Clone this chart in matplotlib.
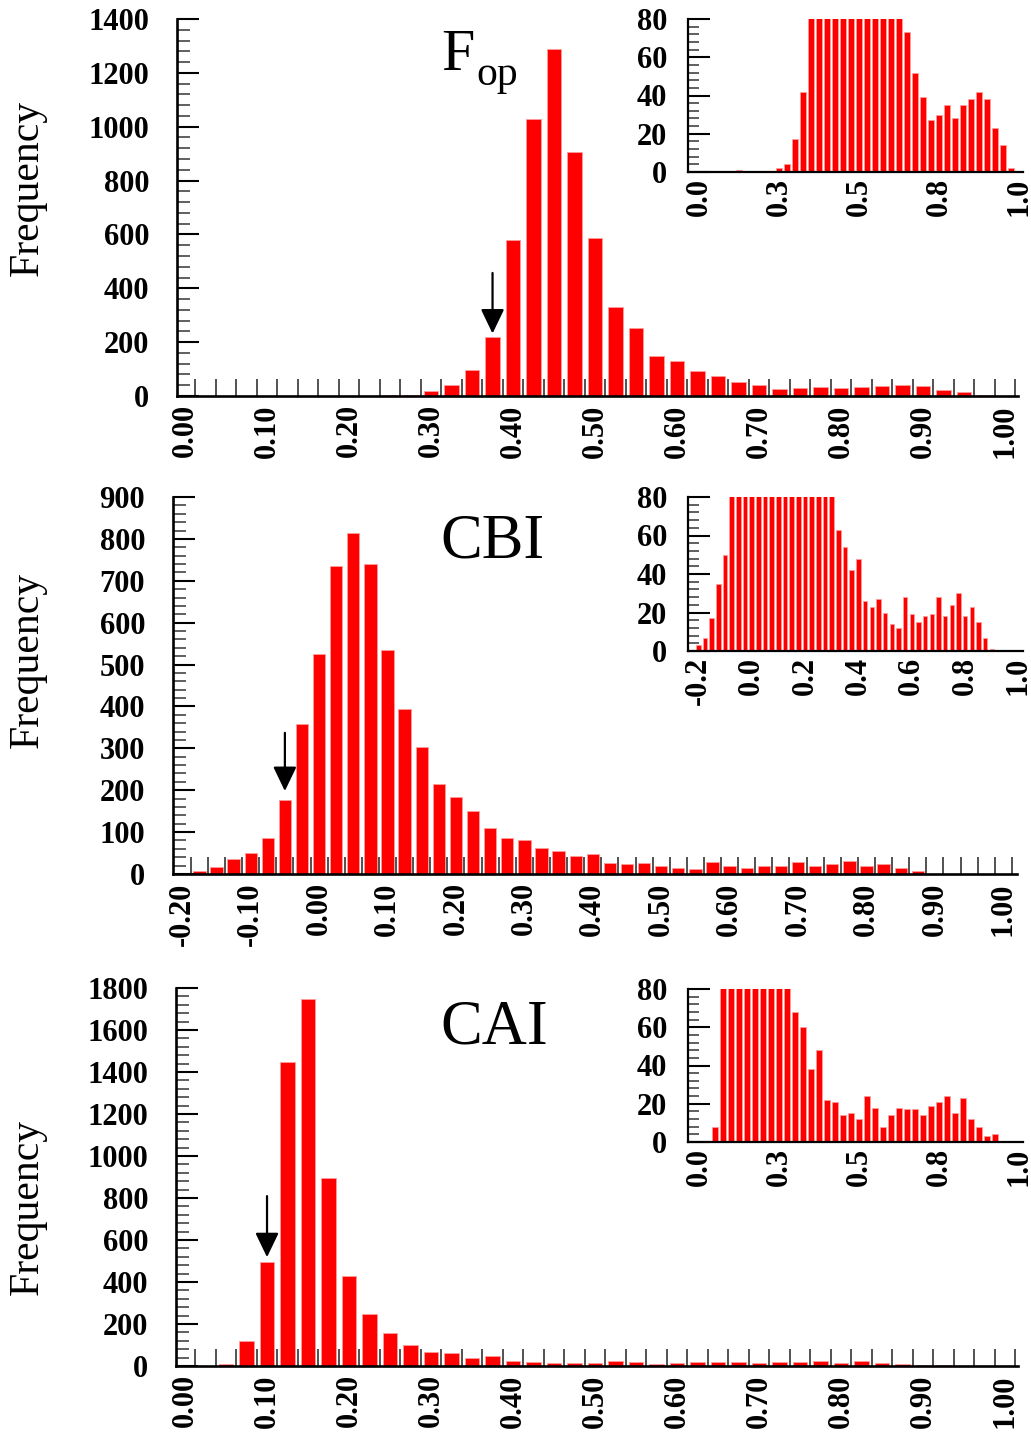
import numpy as np
import matplotlib
matplotlib.use('Agg')
import matplotlib.pyplot as plt
from matplotlib.ticker import FixedLocator, MultipleLocator

plt.rcParams['font.family'] = ['Liberation Serif', 'DejaVu Serif']

W, H = 1031, 1436

# ---------------- data ----------------
# bin centres (step 0.025)
fop_centers = np.round(np.arange(41) * 0.025, 4)
fop_counts = [0, 0, 0, 0, 0, 1, 0, 0, 0, 0,
              2, 4, 17, 42, 95, 220, 580, 1030, 1290, 905,
              588, 332, 252, 150, 129, 93, 73, 52, 39, 27,
              30, 35, 28, 35, 38, 42, 38, 23, 14, 2, 0]

cbi_centers = np.round(-0.2 + np.arange(49) * 0.025, 4)
cbi_counts = [3, 7, 17, 35, 50, 87, 177, 357, 526, 736,
              813, 741, 535, 394, 303, 215, 185, 150, 111, 85,
              81, 63, 54, 42, 48, 26, 23, 27, 20, 14,
              12, 28, 19, 15, 18, 19, 28, 18, 24, 30,
              18, 23, 15, 7, 1, 0, 0, 0, 0]

cai_centers = np.round(np.arange(41) * 0.025, 4)
cai_counts = [0, 0, 8, 119, 497, 1448, 1746, 895, 430, 248,
              156, 98, 68, 60, 38, 48, 22, 21, 14, 15,
              12, 24, 18, 8, 14, 18, 17, 17, 14, 19,
              21, 24, 15, 23, 12, 8, 3, 4, 0, 0, 0]

main_ticks_01 = [0.0, 0.1, 0.2, 0.3, 0.4, 0.5, 0.6, 0.7, 0.8, 0.9, 1.0]
main_labels_01 = ['0.00', '0.10', '0.20', '0.30', '0.40', '0.50',
                  '0.60', '0.70', '0.80', '0.90', '1.00']
main_ticks_cbi = [-0.2, -0.1, 0.0, 0.1, 0.2, 0.3, 0.4, 0.5, 0.6, 0.7, 0.8, 0.9, 1.0]
main_labels_cbi = ['-0.20', '-0.10', '0.00', '0.10', '0.20', '0.30', '0.40',
                   '0.50', '0.60', '0.70', '0.80', '0.90', '1.00']
inset_ticks_01 = [0.0, 0.25, 0.5, 0.75, 1.0]
inset_labels_01 = ['0.0', '0.3', '0.5', '0.8', '1.0']
inset_ticks_cbi = [-0.2, 0.0, 0.2, 0.4, 0.6, 0.8, 1.0]
inset_labels_cbi = ['-0.2', '0.0', '0.2', '0.4', '0.6', '0.8', '1.0']

titles = ['CBI', 'CAI']
arrow_fop = (0.375, 457, 232)
arrow_cbi = (-0.05, 337, 198)
arrow_cai = (0.10, 809, 518)

# ---------------- figure ----------------
fig = plt.figure(figsize=(W / 100, H / 100), dpi=100)


def px_axes(l, t, r, b):
    return fig.add_axes([l / W, 1 - b / H, (r - l) / W, (b - t) / H])


TICKFONT = dict(fontsize=22, fontweight='bold')
RED = '#ff0000'
EDGE = '#ff9c9c'


def style_main(ax, xlim, ylim, xt, xl, ymaj, ymin, edge_lo, edge_hi):
    for s in ['top', 'right']:
        ax.spines[s].set_visible(False)
    for s in ['left', 'bottom']:
        ax.spines[s].set_linewidth(1.9)
    ax.set_xlim(*xlim)
    ax.set_ylim(*ylim)
    ax.xaxis.set_major_locator(FixedLocator(xt))
    ax.set_xticklabels(xl, rotation=90, **TICKFONT)
    edges = np.arange(edge_lo, edge_hi + 1e-9, 0.025)
    ax.xaxis.set_minor_locator(FixedLocator(edges))
    ax.tick_params(axis='x', which='major', length=0, pad=6)
    ax.tick_params(axis='x', which='minor', direction='in', length=12,
                   width=1.2, color='#333333')
    ax.yaxis.set_major_locator(MultipleLocator(ymaj))
    ax.yaxis.set_minor_locator(MultipleLocator(ymin))
    ax.tick_params(axis='y', which='major', direction='in', length=16,
                   width=1.5, color='black', pad=20)
    ax.tick_params(axis='y', which='minor', direction='in', length=9,
                   width=1.2, color='#444444')
    for lab in ax.get_yticklabels():
        lab.set_fontsize(22)
        lab.set_fontweight('bold')


def style_inset(ax, xlim, xt, xl):
    for s in ['top', 'right']:
        ax.spines[s].set_visible(False)
    for s in ['left', 'bottom']:
        ax.spines[s].set_linewidth(1.6)
    ax.set_xlim(*xlim)
    ax.set_ylim(0, 80)
    ax.xaxis.set_major_locator(FixedLocator(xt))
    ax.set_xticklabels(xl, rotation=90, **TICKFONT)
    ax.tick_params(axis='x', which='major', length=0, pad=4)
    ax.yaxis.set_major_locator(MultipleLocator(20))
    ax.yaxis.set_minor_locator(MultipleLocator(4))
    ax.tick_params(axis='y', which='major', direction='in', length=16,
                   width=1.5, color='black', pad=15)
    ax.tick_params(axis='y', which='minor', direction='in', length=8,
                   width=1.2, color='#444444')
    for lab in ax.get_yticklabels():
        lab.set_fontsize(22)
        lab.set_fontweight('bold')


def arrow(ax, spec):
    x, ytop, ytip = spec
    ax.annotate('', xy=(x, ytip), xytext=(x, ytop),
                arrowprops=dict(arrowstyle='-|>,head_length=0.75,head_width=0.36',
                                mutation_scale=20, lw=1.6, color='black',
                                shrinkA=0, shrinkB=0))


# Panel 1: Fop
ax1 = px_axes(177, 19, 1018, 396)
ax1.bar(fop_centers, fop_counts, width=0.018, color=RED, edgecolor=EDGE, linewidth=0.6)
style_main(ax1, (-0.0098, 1.0158), (0, 1400), main_ticks_01, main_labels_01,
           200, 40, 0.0125, 1.0125)
arrow(ax1, arrow_fop)

in1 = px_axes(688, 19, 1023, 172)
in1.bar(fop_centers, fop_counts, width=0.017, color=RED, edgecolor=EDGE, linewidth=0.6)
style_inset(in1, (-0.035, 1.012), inset_ticks_01, inset_labels_01)

# Panel 2: CBI
ax2 = px_axes(173, 497, 1017, 874)
ax2.bar(cbi_centers, cbi_counts, width=0.018, color=RED, edgecolor=EDGE, linewidth=0.6)
style_main(ax2, (-0.2135, 1.02), (0, 900), main_ticks_cbi, main_labels_cbi,
           100, 20, -0.1875, 1.0125)
arrow(ax2, arrow_cbi)

in2 = px_axes(688, 497, 1023, 651)
in2.bar(cbi_centers, cbi_counts, width=0.017, color=RED, edgecolor=EDGE, linewidth=0.6)
style_inset(in2, (-0.239, 1.017), inset_ticks_cbi, inset_labels_cbi)

# Panel 3: CAI
ax3 = px_axes(176, 988, 1018, 1366)
ax3.bar(cai_centers, cai_counts, width=0.018, color=RED, edgecolor=EDGE, linewidth=0.6)
style_main(ax3, (-0.011, 1.0158), (0, 1800), main_ticks_01, main_labels_01,
           200, 40, 0.0125, 1.0125)
arrow(ax3, arrow_cai)

in3 = px_axes(688, 989, 1023, 1142)
in3.bar(cai_centers, cai_counts, width=0.017, color=RED, edgecolor=EDGE, linewidth=0.6)
style_inset(in3, (-0.035, 1.012), inset_ticks_01, inset_labels_01)

# Titles
fig.text(441 / W, 1 - 70 / H, 'F', fontsize=43, ha='left', va='baseline')
fig.text(476 / W, 1 - 85 / H, 'op', fontsize=30, ha='left', va='baseline')
fig.text(440 / W, 1 - 557 / H, titles[0], fontsize=45, ha='left', va='baseline')
fig.text(440 / W, 1 - 1043 / H, titles[1], fontsize=45, ha='left', va='baseline')

# y labels
for yc in [188, 660, 1207]:
    fig.text(28 / W, 1 - yc / H, 'Frequency', rotation=90, fontsize=30,
             ha='center', va='center')

fig.savefig('out.png', dpi=100, facecolor='white')
